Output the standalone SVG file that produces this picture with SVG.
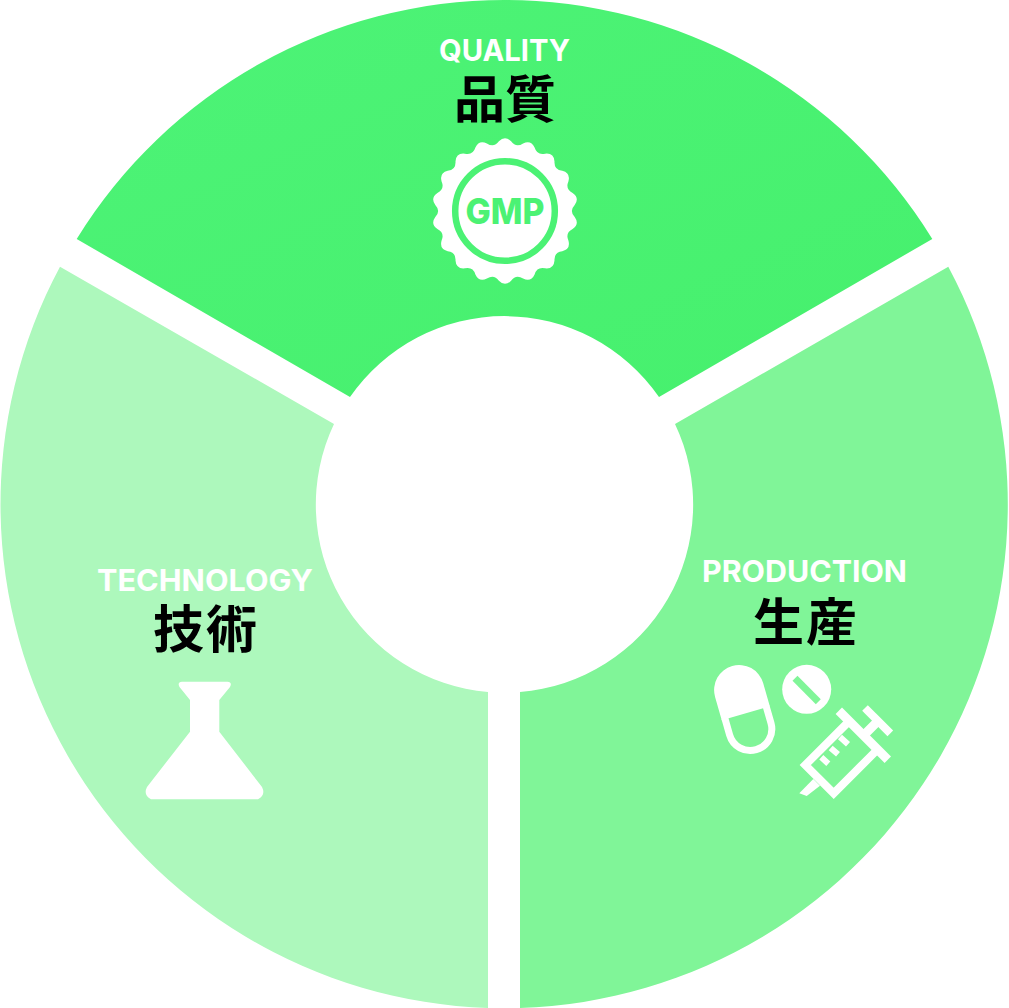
<svg xmlns="http://www.w3.org/2000/svg" width="1009" height="1008" viewBox="0 0 1009 1008">
<style>
.en{font-family:"Inter","Liberation Sans",sans-serif;font-weight:700;fill:#fff;text-anchor:middle;font-size:30px}
.ja{font-family:"Noto Sans CJK JP",sans-serif;font-weight:700;fill:#000;font-size:51px}
.w{fill:#fff}
.ws{fill:none;stroke:#fff}
</style>
<defs>
<linearGradient id="topFill" x1="0" y1="0" x2="1" y2="1">
<stop offset="0" stop-color="#4df377"/><stop offset="1" stop-color="#46f06d"/>
</linearGradient>
</defs>
<rect width="1009" height="1008" fill="#fff"/>
<g id="quality">
<path fill="url(#topFill)" d="M76.700 239A502.400 502.400 0 0 1 932.300 239L659 397A188 188 0 0 0 350 397Z"/>
<text class="en" x="504.500" y="61" textLength="131" lengthAdjust="spacingAndGlyphs">QUALITY</text>
<text class="ja" x="454" y="118" textLength="102">品質</text>
<g transform="translate(505 211)">
<path class="w" d="M69.700 -6.100Q74.800 -13.200 67.600 -18.100Q60.100 -21.900 63.400 -29.600Q65.800 -38 57.300 -40.200Q49 -41.100 49.500 -49.500Q48.900 -58.200 40.200 -57.300Q32 -55.400 29.600 -63.400Q26 -71.400 18.100 -67.600Q11.100 -63 6.100 -69.700Q0 -76 -6.100 -69.700Q-11.100 -63 -18.100 -67.600Q-26 -71.400 -29.600 -63.400Q-32 -55.400 -40.200 -57.300Q-48.900 -58.200 -49.500 -49.500Q-49 -41.100 -57.300 -40.200Q-65.800 -38 -63.400 -29.600Q-60.100 -21.900 -67.600 -18.100Q-74.800 -13.200 -69.700 -6.100Q-64 0 -69.700 6.100Q-74.800 13.200 -67.600 18.100Q-60.100 21.900 -63.400 29.600Q-65.800 38 -57.300 40.200Q-49 41.100 -49.500 49.500Q-48.900 58.200 -40.200 57.300Q-32 55.400 -29.600 63.400Q-26 71.400 -18.100 67.600Q-11.100 63 -6.100 69.700Q0 76 6.100 69.700Q11.100 63 18.100 67.600Q26 71.400 29.600 63.400Q32 55.400 40.200 57.300Q48.900 58.200 49.500 49.500Q49 41.100 57.300 40.200Q65.800 38 63.400 29.600Q60.100 21.900 67.600 18.100Q74.800 13.200 69.700 6.100Q64 0 69.700 -6.100Z"/>
<circle r="49.800" fill="none" stroke="#4bf274" stroke-width="6.500"/>
<text x="0" y="13.300" font-family="Inter,'Liberation Sans',sans-serif" font-weight="800" font-size="36" fill="#4bf274" text-anchor="middle" textLength="79" lengthAdjust="spacingAndGlyphs">GMP</text>
</g>
</g>
<g id="production">
<path fill="#80f598" d="M948.300 266.700A504 504 0 0 1 520 1008V692A188 188 0 0 0 675 424Z"/>
<text class="en" x="804.500" y="582.300" textLength="205" lengthAdjust="spacingAndGlyphs">PRODUCTION</text>
<text class="ja" x="753" y="640.500" textLength="104">生産</text>
<g transform="translate(744.700 709.500) rotate(-16)">
<path class="w" d="M-25 3.900V-20.300A25 25 0 0 1 25 -20.300V3.900Z"/>
<path fill="none" stroke="#fff" stroke-width="7" d="M-21.500 3V20.300A21.500 21.500 0 0 0 21.500 20.300V3"/>
</g>
<circle class="w" cx="806.700" cy="689.300" r="24.500"/>
<line x1="795" y1="678.300" x2="818.300" y2="701.700" stroke="#80f598" stroke-width="7"/>
<g>
<path class="ws" stroke-width="8" d="M849.200 721.200L805.300 765L833.700 793.300L877.500 749.500"/>
<path class="ws" stroke-width="9" d="M838.800 710.800L887.800 759.800"/>
<path class="ws" stroke-width="8" d="M865 708L890.300 733.300"/>
<path class="ws" stroke-width="9" d="M863.500 735.500L878 721"/>
<path class="w" d="M813.300 779L820 785.700L806.700 796L799.300 793.300Z"/>
<path class="ws" stroke-width="6" d="M821.300 757.300L828.300 763.700M830.700 748L838 754.300M840 737L848 744.300"/>
</g>
</g>
<g id="technology">
<path fill="#adf8bc" d="M60 266.700L334 424A188 188 0 0 0 488 692V1008A504 504 0 0 1 60 266.700Z"/>
<text class="en" x="205" y="590.700" textLength="216" lengthAdjust="spacingAndGlyphs">TECHNOLOGY</text>
<text class="ja" x="153" y="647.500" textLength="104">技術</text>
<path class="w" d="M182 681.700H227.500Q232.500 682 230 687L219.300 700V731.700L262 787Q266 795 258 799.300H151Q143 795 147 787L190 731.700V700L179.500 687Q177 682 182 681.700Z"/>
</g>
</svg>
